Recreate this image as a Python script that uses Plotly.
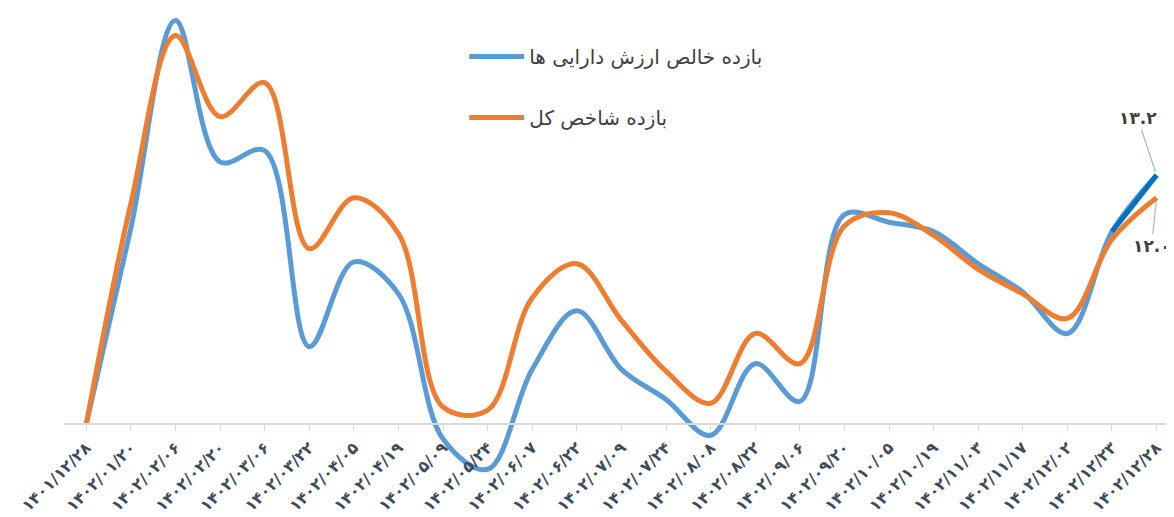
import plotly.graph_objects as go

dates = ["۱۴۰۱/۱۲/۲۸", "۱۴۰۲/۰۱/۲۰", "۱۴۰۲/۰۲/۰۶", "۱۴۰۲/۰۲/۲۰", "۱۴۰۲/۰۳/۰۶",
         "۱۴۰۲/۰۳/۲۲", "۱۴۰۲/۰۴/۰۵", "۱۴۰۲/۰۴/۱۹", "۱۴۰۲/۰۵/۰۹", "۱۴۰۲/۰۵/۲۴",
         "۱۴۰۲/۰۶/۰۷", "۱۴۰۲/۰۶/۲۲", "۱۴۰۲/۰۷/۰۹", "۱۴۰۲/۰۷/۲۴", "۱۴۰۲/۰۸/۰۸",
         "۱۴۰۲/۰۸/۲۲", "۱۴۰۲/۰۹/۰۶", "۱۴۰۲/۰۹/۲۰", "۱۴۰۲/۱۰/۰۵", "۱۴۰۲/۱۰/۱۹",
         "۱۴۰۲/۱۱/۰۳", "۱۴۰۲/۱۱/۱۷", "۱۴۰۲/۱۲/۰۲", "۱۴۰۲/۱۲/۲۳", "۱۴۰۲/۱۲/۲۸"]

fund_return = [0, 10.4, 21.4, 13.9, 14.5, 4.1, 8.6, 6.9, -0.8, -2.4, 2.9, 6.0, 2.9, 1.3,
               -0.6, 3.2, 1.2, 11.1, 10.7, 10.2, 8.5, 7.0, 4.8, 10.2, 13.2]
index_return = [0, 11.7, 20.6, 16.3, 18.1, 9.3, 12.0, 10.1, 0.9, 0.74, 6.7, 8.5, 5.5, 2.8,
                1.1, 4.8, 3.2, 10.5, 11.2, 10.0, 8.2, 6.9, 5.6, 9.8, 12.0]

name_fund = "بازده خالص ارزش دارایی ها"
name_index = "بازده شاخص کل"
label_fund = "۱۳.۲"
label_index = "۱۲.۰"

BLUE = "#5B9BD5"
DARK_BLUE = "#0070C0"
ORANGE = "#ED7D31"

x_idx = list(range(len(dates)))

fig = go.Figure()
fig.add_trace(go.Scatter(
    x=x_idx, y=fund_return, mode="lines", name=name_fund,
    line=dict(color=BLUE, width=5, shape="spline", smoothing=1),
    legendgroup="a", hoverinfo="skip"))
fig.add_trace(go.Scatter(
    x=x_idx[-2:], y=fund_return[-2:], mode="lines", showlegend=False,
    line=dict(color=DARK_BLUE, width=5), hoverinfo="skip"))
fig.add_trace(go.Scatter(
    x=x_idx, y=index_return, mode="lines", name=name_index,
    line=dict(color=ORANGE, width=5, shape="spline", smoothing=1),
    legendgroup="b", hoverinfo="skip"))

ymin, ymax = -2.81, 22.06
fig.update_layout(
    width=1174, height=517,
    margin=dict(l=56, r=0, t=0, b=48, autoexpand=False),
    paper_bgcolor="white", plot_bgcolor="white",
    font=dict(family="DejaVu Sans", color="#404040"),
    showlegend=True,
    legend=dict(x=0.358, y=0.938, xanchor="left", yanchor="top",
                font=dict(size=20, color="#404040"),
                itemwidth=55, tracegroupgap=32, bgcolor="rgba(0,0,0,0)"),
    xaxis=dict(
        range=[-0.5, 24.57], tickmode="array", tickvals=x_idx, ticktext=dates,
        tickangle=-45, tickson="boundaries", ticks="outside", ticklen=6,
        tickcolor="#D9D9D9", showline=True, linecolor="#D9D9D9", linewidth=2,
        showgrid=False, zeroline=False, anchor="free",
        position=(0 - ymin) / (ymax - ymin),
        tickfont=dict(size=16, color="#3F4B5B", family="DejaVu Sans, sans-serif",
                      weight="bold"),
        ticklabelstandoff=1, automargin=False),
    yaxis=dict(range=[ymin, ymax], visible=False, showgrid=False, zeroline=False),
)

fig.add_annotation(x=24, y=fund_return[-1], xref="x", yref="y", text=label_fund,
                   showarrow=True, arrowhead=0, arrowwidth=1.3, arrowcolor="#AEB9C8",
                   ax=-19, ay=-57, standoff=3,
                   font=dict(size=17, color="#404040", family="DejaVu Sans",
                             weight="bold"))
fig.add_annotation(x=24, y=index_return[-1], xref="x", yref="y", text=label_index,
                   showarrow=True, arrowhead=0, arrowwidth=1.3, arrowcolor="#AEB9C8",
                   ax=-5, ay=48, standoff=3,
                   font=dict(size=17, color="#404040", family="DejaVu Sans",
                             weight="bold"))

fig.write_html("out.html")
